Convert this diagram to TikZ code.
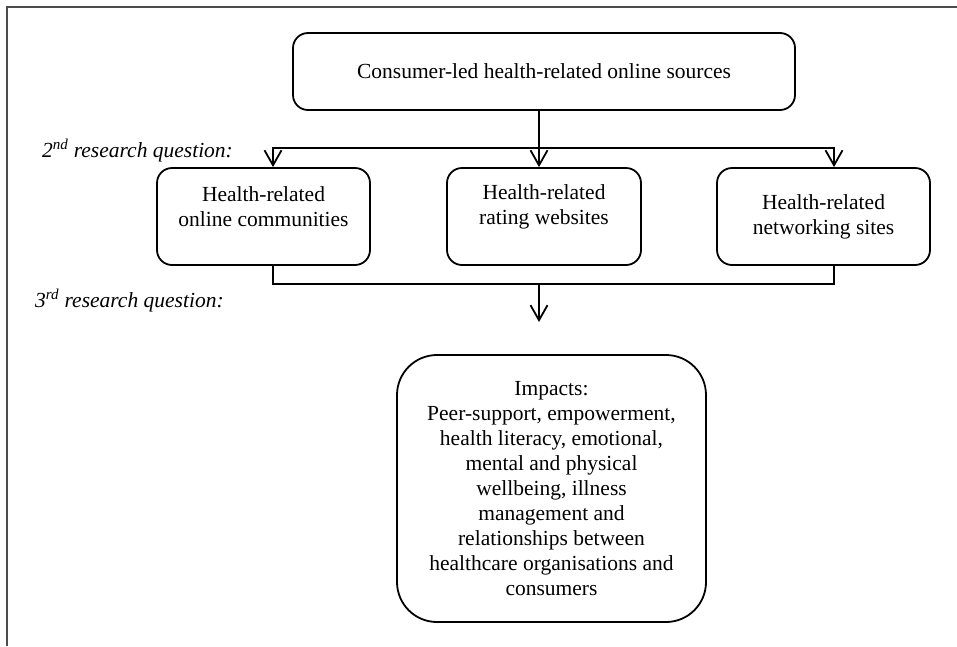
\documentclass[tikz,border=0pt]{standalone}
\usepackage{fontspec}
\setmainfont{Liberation Serif}
\usetikzlibrary{arrows.meta}
\tikzset{
  box/.style={draw, line width=1.8pt, rounded corners=15pt, inner sep=0pt},
  txt/.style={align=center, font=\fontsize{21.5}{25}\selectfont, inner sep=0pt},
  lab/.style={font=\fontsize{21.5}{25}\selectfont\itshape, anchor=base west, inner sep=0pt},
  conn/.style={line width=1.8pt},
  arr/.style={line width=1.8pt, -{Straight Barb[length=15pt,width=17pt,line width=1.8pt]}},
  frame/.style={line width=1.6pt, draw=black!70}
}
\begin{document}
\begin{tikzpicture}[x=1pt,y=-1pt]
\useasboundingbox (0,0) rectangle (957,646);
\draw[frame] (7,646) -- (7,7) -- (957,7);

\node[box, minimum width=502pt, minimum height=77pt] (top) at (544,71.5) {};
\node[txt] (toptxt) at (top.center) {Consumer-led health-related online sources};

\node[box, minimum width=213pt, minimum height=97pt] (b1) at (263.5,216.5) {};
\node[txt] (b1txt) at (263.5,207) {Health-related\\online communities};
\node[box, minimum width=194pt, minimum height=97pt] (b2) at (544,216.5) {};
\node[txt] (b2txt) at (544,207) {Health-related\\rating websites};
\node[box, minimum width=213pt, minimum height=97pt] (b3) at (823.5,216.5) {};
\node[txt] (b3txt) at (823.5,217) {Health-related\\networking sites};

\node[box, rounded corners=40pt, minimum width=309pt, minimum height=267pt] (imp) at (551.5,488.5) {};
\node[txt] (imptxt) at (imp.center) {Impacts:\\Peer-support, empowerment,\\health literacy, emotional,\\mental and physical\\wellbeing, illness\\management and\\relationships between\\healthcare organisations and\\consumers};

\node[lab] (q2) at (42,157) {2\textsuperscript{nd} research question:};
\node[lab] (q3) at (35,307) {3\textsuperscript{rd} research question:};

\coordinate (j1) at (539,148);
\coordinate (j2) at (539,284);
\coordinate (j3) at (539,322);
\coordinate (a1) at (273,0);
\coordinate (a3) at (834,0);

\draw[conn] (top.south -| j1) -- (j1);
\draw[arr] (j1) -| (b1.north -| a1);
\draw[arr] (j1) -- (b2.north -| j1);
\draw[arr] (j1) -| (b3.north -| a3);
\draw[conn] (b1.south -| a1) |- (j2);
\draw[conn] (b3.south -| a3) |- (j2);
\draw[arr] (j2) -- (j3);
\end{tikzpicture}
\end{document}
